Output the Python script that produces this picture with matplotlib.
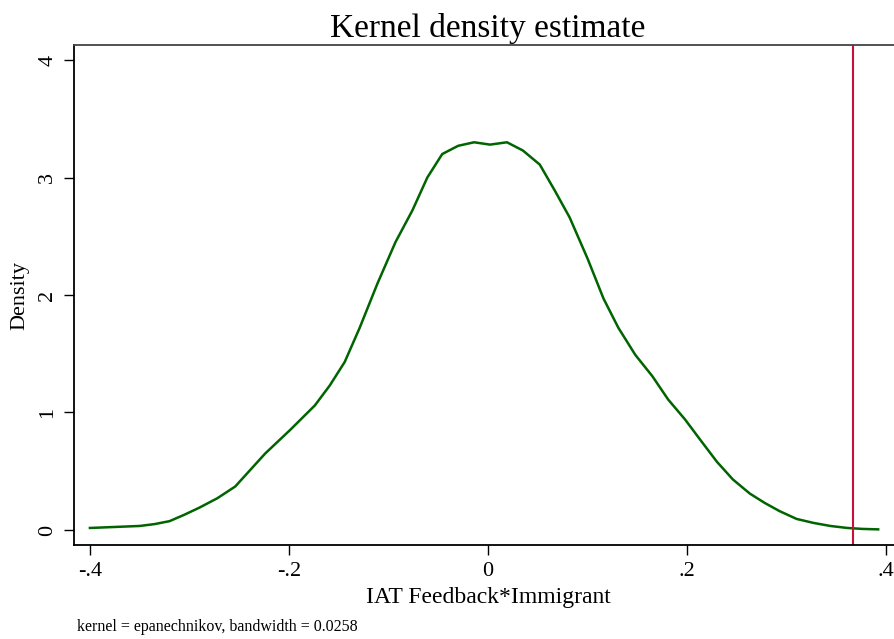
import matplotlib
matplotlib.use("Agg")
import matplotlib.pyplot as plt

x_vals = [-0.400, -0.350, -0.335, -0.320, -0.305, -0.290, -0.272, -0.254, -0.239, -0.224,
          -0.199, -0.174, -0.159, -0.144, -0.129, -0.111, -0.093, -0.076, -0.061, -0.046,
          -0.030, -0.014, 0.002, 0.019, 0.035, 0.052, 0.067, 0.082, 0.100, 0.116,
          0.131, 0.148, 0.165, 0.181, 0.198, 0.213, 0.230, 0.246, 0.263, 0.278,
          0.293, 0.310, 0.327, 0.344, 0.361, 0.376, 0.392]
density = [0.017, 0.034, 0.050, 0.075, 0.13, 0.19, 0.27, 0.37, 0.51, 0.65,
           0.85, 1.06, 1.23, 1.43, 1.72, 2.10, 2.45, 2.72, 3.00, 3.20,
           3.27, 3.30, 3.28, 3.30, 3.23, 3.11, 2.89, 2.66, 2.31, 1.97,
           1.72, 1.49, 1.31, 1.11, 0.94, 0.77, 0.58, 0.43, 0.31, 0.23,
           0.16, 0.094, 0.06, 0.034, 0.017, 0.009, 0.005]
vline_x = 0.367
xticks = [-0.4, -0.2, 0, 0.2, 0.4]
xtick_labels = ["-.4", "-.2", "0", ".2", ".4"]
yticks = [0, 1, 2, 3, 4]
ytick_labels = ["0", "1", "2", "3", "4"]

plt.rcParams['font.family'] = ['Liberation Serif', 'DejaVu Serif']

W, H = 894, 639
fig = plt.figure(figsize=(W/100, H/100), dpi=100)
left_px, right_px, top_px, bot_px = 74, 916, 45, 545
ax = fig.add_axes([left_px/W, 1-bot_px/H, (right_px-left_px)/W, (bot_px-top_px)/H])

ax.plot(x_vals, density, color="#006400", lw=1.8)
ax.axvline(vline_x, color="#c8103c", lw=1.5)

ax.set_xlim(-0.416, 0.430)
ax.set_ylim(-0.128, 4.128)
ax.set_xticks(xticks)
ax.set_xticklabels(xtick_labels, fontsize=16)
ax.set_yticks(yticks)
ax.set_yticklabels(ytick_labels, fontsize=16, rotation=90, va='center')
ax.tick_params(direction='out', length=7, width=1, pad=5)
for s in ['left', 'bottom']:
    ax.spines[s].set_linewidth(1.3)
    ax.spines[s].set_color('black')
ax.spines['top'].set_linewidth(1.3)
ax.spines['top'].set_color('#444444')
ax.spines['right'].set_visible(False)

fig.text(488/W, 1-29/H, "Kernel density estimate", ha='center', va='center', fontsize=24)
fig.text(488/W, 1-597/H, "IAT Feedback*Immigrant", ha='center', va='center', fontsize=17)
fig.text(20/W, 1-295/H, "Density", ha='center', va='center', rotation=90, fontsize=16)
fig.text(77/W, 1-627/H, "kernel = epanechnikov, bandwidth = 0.0258", ha='left', va='center', fontsize=11.5)

fig.savefig("out.png", dpi=100, facecolor='white')
